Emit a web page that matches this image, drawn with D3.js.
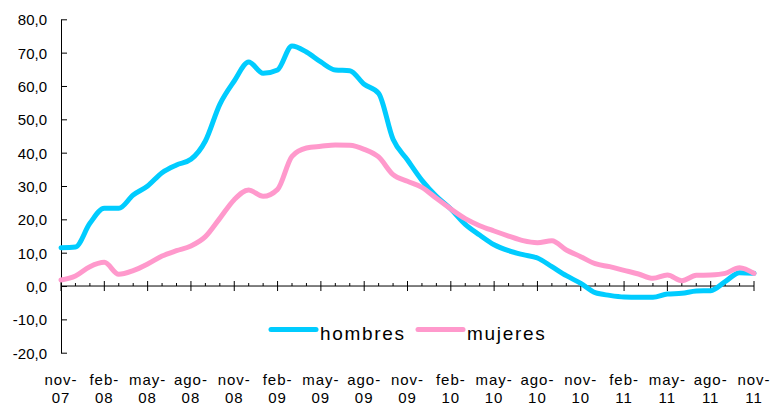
<!DOCTYPE html>
<html>
<head>
<meta charset="utf-8">
<script src="https://cdn.jsdelivr.net/npm/d3@7"></script>
<style>
  body { margin: 0; background: #fff; }
  svg text { font-family: "Liberation Sans", Arial, sans-serif; fill: #000; }
</style>
</head>
<body>
<div id="chart"></div>
<script>
// 1: DATA
const months = [
	"nov-07","dic-07","ene-08","feb-08","mar-08","abr-08","may-08","jun-08","jul-08","ago-08","sep-08","oct-08",
	"nov-08","dic-08","ene-09","feb-09","mar-09","abr-09","may-09","jun-09","jul-09","ago-09","sep-09","oct-09",
	"nov-09","dic-09","ene-10","feb-10","mar-10","abr-10","may-10","jun-10","jul-10","ago-10","sep-10","oct-10",
	"nov-10","dic-10","ene-11","feb-11","mar-11","abr-11","may-11","jun-11","jul-11","ago-11","sep-11","oct-11",
	"nov-11"
];

const hombres = [
	11.5, 11.7, 18.8, 23.3, 23.3, 27.3, 30.0, 34.0, 36.3, 38.0, 43.5, 54.5,
	61.5, 67.2, 63.8, 64.8, 72.0, 70.2, 67.2, 64.8, 64.6, 60.5, 57.8, 44.0,
	37.8, 31.7, 26.9, 23.1, 18.5, 15.3, 12.4, 10.6, 9.4, 8.4, 5.8, 3.1,
	0.8, -2.0, -2.8, -3.3, -3.4, -3.4, -2.4, -2.2, -1.5, -1.4, 1.3, 4.0,
	3.8
];

const mujeres = [
	1.8, 3.0, 5.8, 7.1, 3.5, 4.6, 6.6, 9.0, 10.6, 12.0, 14.8, 20.3,
	25.9, 28.8, 26.9, 29.0, 38.9, 41.4, 41.9, 42.3, 42.2, 41.0, 38.7, 33.4,
	31.4, 29.6, 26.3, 23.1, 20.2, 18.1, 16.5, 15.0, 13.6, 13.0, 13.6, 10.8,
	8.8, 6.7, 5.8, 4.7, 3.6, 2.3, 3.3, 1.6, 3.2, 3.3, 3.8, 5.5,
	3.8
];

const yTicks = [-20, -10, 0, 10, 20, 30, 40, 50, 60, 70, 80];

const series = [
	{ name: "hombres", values: hombres, color: "#00ccff" },
	{ name: "mujeres", values: mujeres, color: "#ff99cc" }
];

// 2: SVG
const W = 771, H = 405;
const svg = d3.select("#chart").append("svg")
	.attr("width", W)
	.attr("height", H);

// 3: SCALES
const x = d3.scaleLinear().domain([0, months.length - 1]).range([61, 754]);
const y = d3.scaleLinear().domain([-20, 80]).range([352.7, 19.3]);

// 4: Y AXIS
const yAxis = svg.append("g")
	.attr("transform", "translate(61,0)")
	.call(d3.axisLeft(y)
		.tickValues(yTicks)
		.tickSize(-6)
		.tickSizeOuter(0)
		.tickPadding(14)
		.tickFormat(d => d.toFixed(1).replace(".", ",")));
yAxis.select(".domain").attr("stroke", "#000");
yAxis.selectAll(".tick line").attr("stroke", "#000");
yAxis.selectAll(".tick text")
	.style("font-size", "15px")
	.attr("dy", "0.36em");

// 5: X AXIS at zero
const y0 = y(0);
svg.append("line")
	.attr("x1", x(0)).attr("x2", x(months.length - 1))
	.attr("y1", y0).attr("y2", y0)
	.attr("stroke", "#000");

const idx = d3.range(months.length);
svg.selectAll(".xtick")
	.data(idx)
	.enter()
	.append("line")
		.attr("class", "xtick")
		.attr("x1", i => x(i)).attr("x2", i => x(i))
		.attr("y1", i => i % 3 === 0 ? y0 - 5 : y0 - 3)
		.attr("y2", i => i % 3 === 0 ? y0 + 5 : y0)
		.attr("stroke", "#000");

const labelIdx = idx.filter(i => i % 3 === 0);
const xl = svg.selectAll(".xlabel")
	.data(labelIdx)
	.enter()
	.append("text")
		.attr("class", "xlabel")
		.attr("text-anchor", "middle")
		.style("font-size", "15px")
		.style("letter-spacing", "1px");
xl.append("tspan")
	.attr("x", i => x(i))
	.attr("y", 384.5)
	.text(i => months[i].split("-")[0] + "-");
xl.append("tspan")
	.attr("x", i => x(i))
	.attr("y", 402.5)
	.text(i => months[i].split("-")[1]);

// 6: LINES (smoothed like the original)
const line = d3.line()
	.x((d, i) => x(i))
	.y(d => y(d))
	.curve(d3.curveMonotoneX);

svg.selectAll(".series")
	.data(series)
	.enter()
	.append("path")
		.attr("class", "series")
		.attr("d", d => line(d.values))
		.attr("fill", "none")
		.attr("stroke", d => d.color)
		.attr("stroke-width", 5)
		.attr("stroke-linejoin", "round")
		.attr("stroke-linecap", "round");

// 7: LEGEND
const legendPos = [
	{ x1: 271, x2: 316, tx: 320 },
	{ x1: 418, x2: 463, tx: 467 }
];
const lg = svg.selectAll(".legend")
	.data(series)
	.enter()
	.append("g")
		.attr("class", "legend");
lg.append("line")
	.attr("x1", (d, i) => legendPos[i].x1)
	.attr("x2", (d, i) => legendPos[i].x2)
	.attr("y1", 329.5).attr("y2", 329.5)
	.attr("stroke", d => d.color)
	.attr("stroke-width", 5)
	.attr("stroke-linecap", "round");
lg.append("text")
	.attr("x", (d, i) => legendPos[i].tx)
	.attr("y", 339.5)
	.style("font-size", "19px")
	.style("letter-spacing", "1.7px")
	.text(d => d.name);
</script>
</body>
</html>
